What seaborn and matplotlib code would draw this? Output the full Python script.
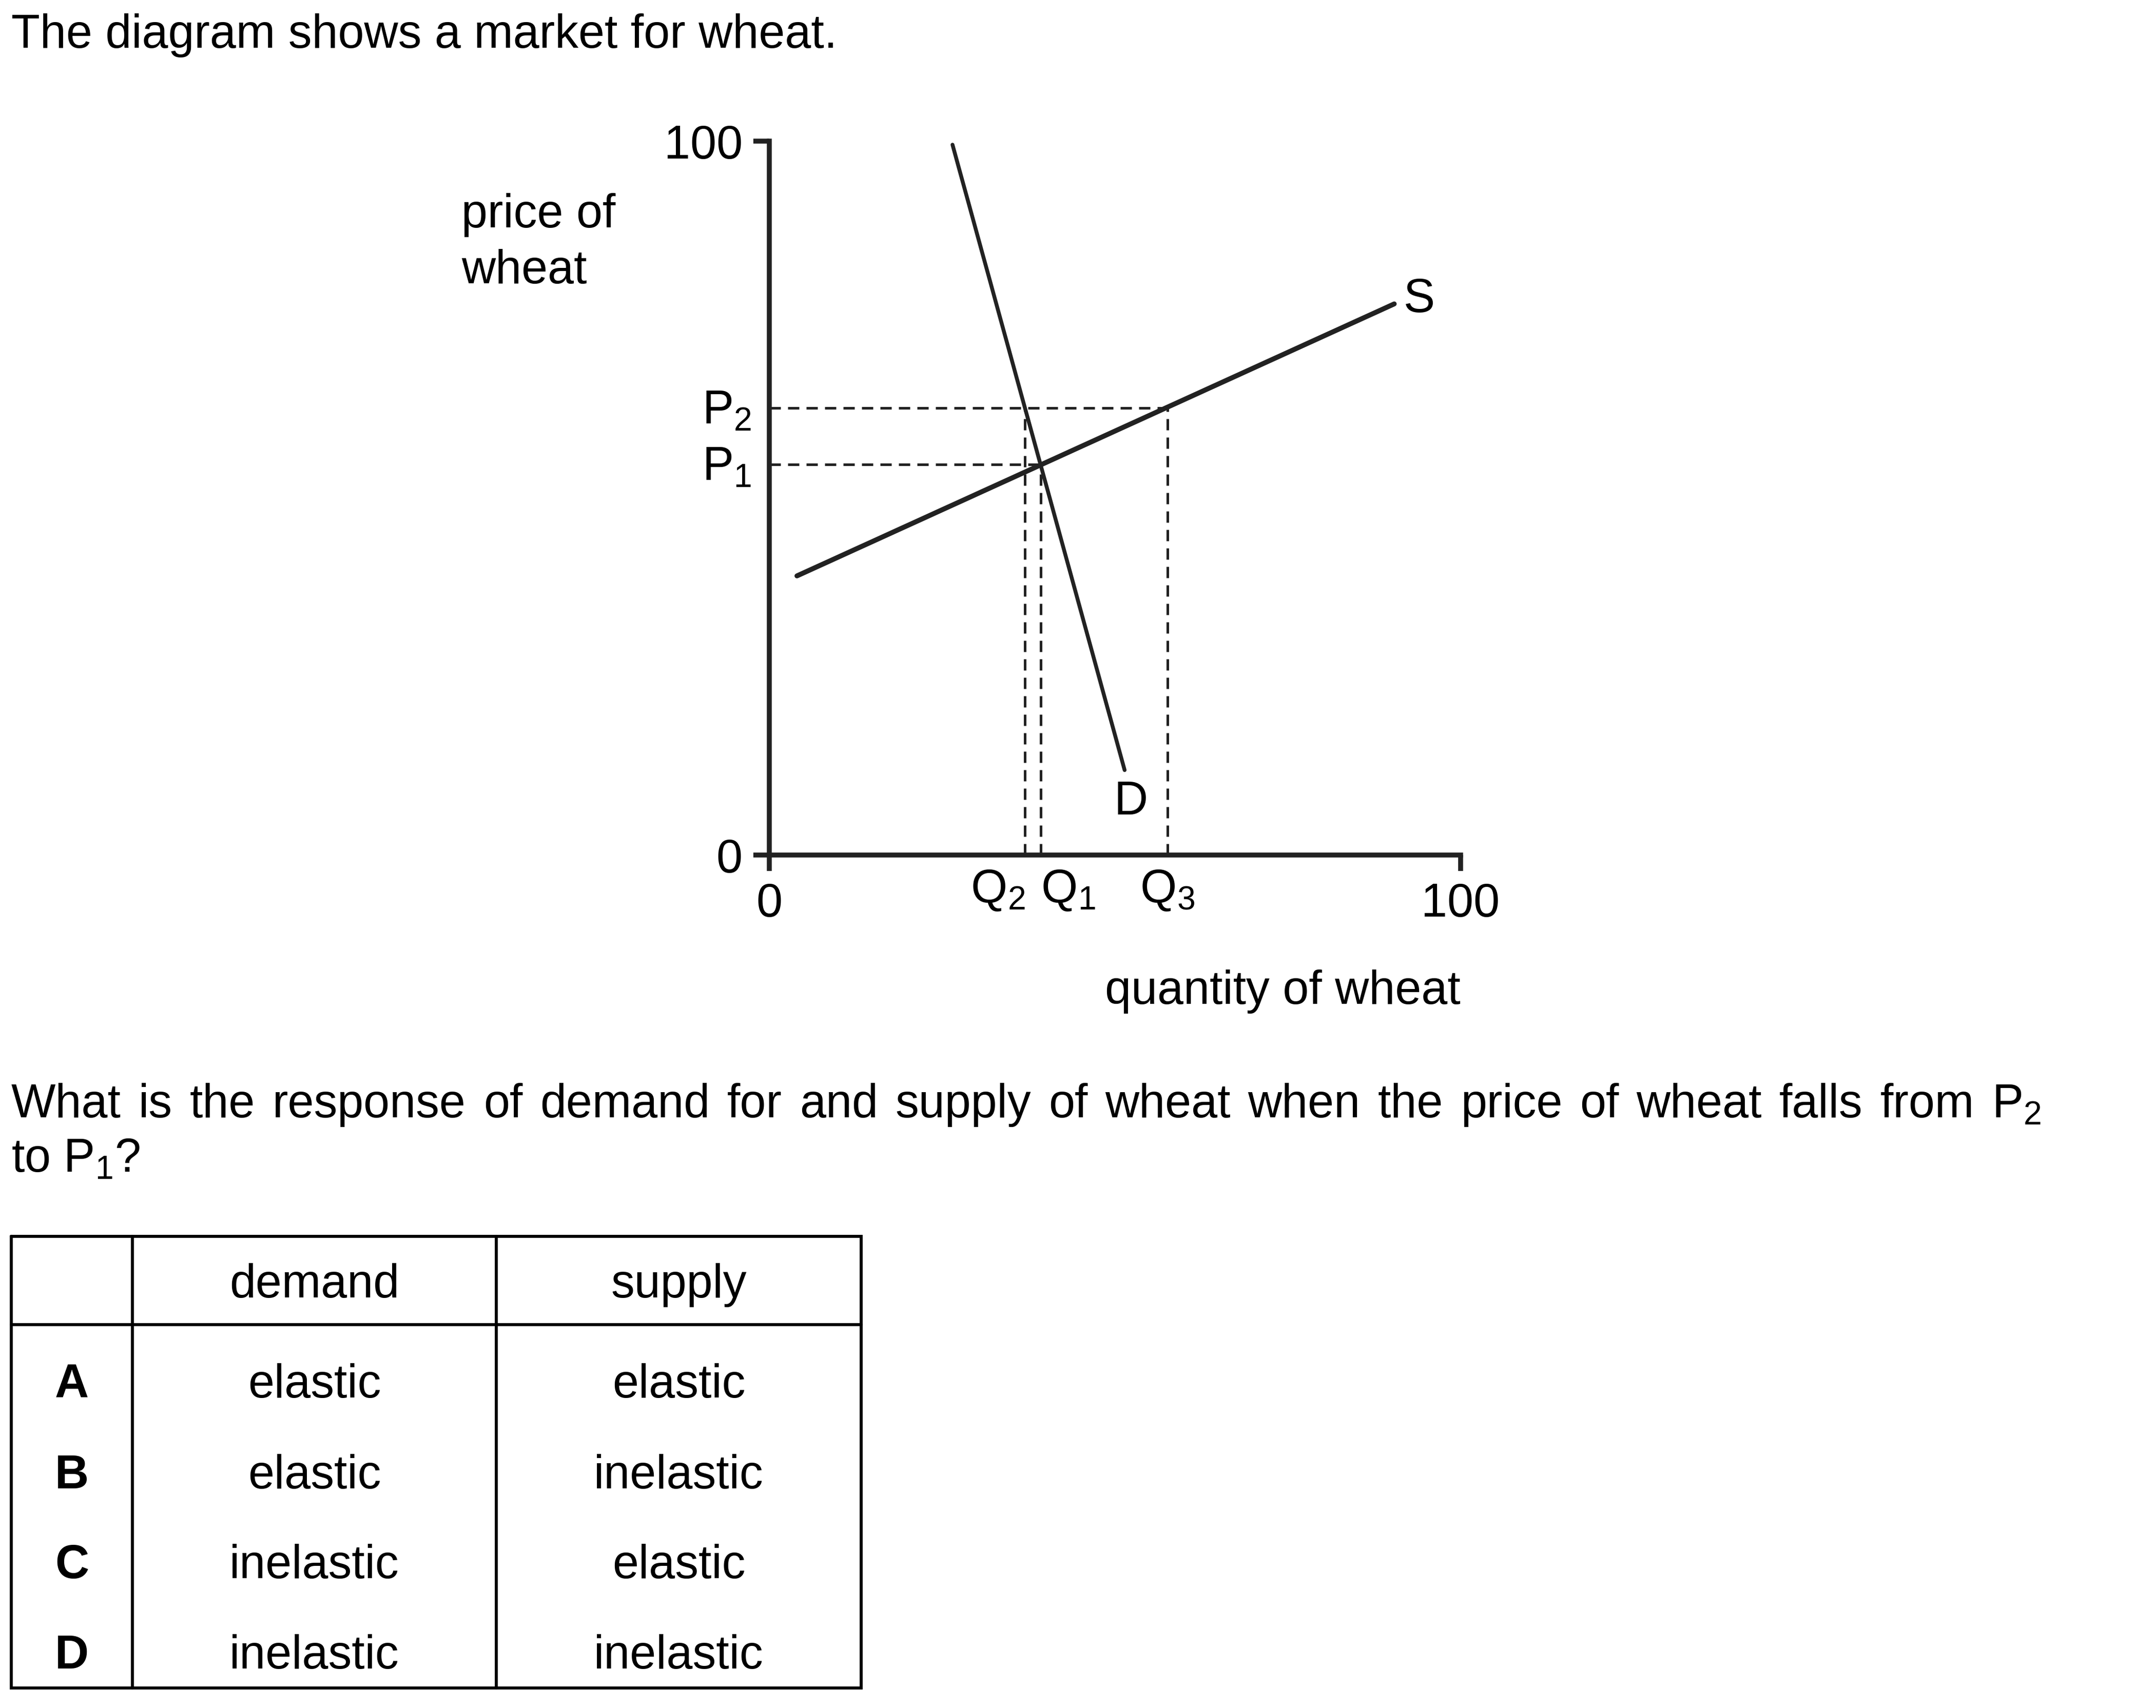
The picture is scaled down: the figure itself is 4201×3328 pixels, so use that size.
import matplotlib
matplotlib.use("Agg")
import matplotlib.pyplot as plt
import matplotlib.transforms as mtransforms
import seaborn as sns

# ---------------- data ----------------
supply_q = [4.0, 90.4]
supply_p = [39.1, 77.2]
demand_q = [26.5, 51.4]
demand_p = [99.5, 11.9]

price_names = ["P1", "P2"]
price_vals = [54.7, 62.6]
qty_names = ["Q2", "Q1", "Q3"]
qty_vals = [37.0, 39.3, 57.6]
qty_tops = [62.6, 54.7, 62.6]          # price reached by each vertical guide
hline_ends = [39.3, 57.6]              # quantity reached by P1 / P2 guides

axis_ticks = [0, 100]
axis_ticklabels = ["0", "100"]

options = ["A", "B", "C", "D"]
demand_resp = ["elastic", "elastic", "inelastic", "inelastic"]
supply_resp = ["elastic", "inelastic", "elastic", "inelastic"]
table_header = ["", "demand", "supply"]

title_text = "The diagram shows a market for wheat."
question_line1 = r"What is the response of demand for and supply of wheat when the price of wheat falls from $\mathregular{P_2}$"
question_line2 = r"to $\mathregular{P_1}$?"

# ---------------- style ----------------
sns.set_theme(style="white")
plt.rcParams["font.family"] = ["Liberation Sans", "DejaVu Sans"]
plt.rcParams["mathtext.default"] = "regular"

W, H = 4201, 3329
DPI = 300
FS = 22
LINE_C = "#222222"

fig = plt.figure(figsize=(W / DPI, H / DPI), dpi=DPI)
fig.patch.set_facecolor("white")

# overlay for free text and table (pixel coordinates, y down)
ov = fig.add_axes([0, 0, 1, 1])
ov.set_xlim(0, W)
ov.set_ylim(H, 0)
ov.axis("off")
ov.patch.set_alpha(0)

# main chart axes
x0, x1, ytop, ybot = 1499, 2846, 276, 1667
ax = fig.add_axes([x0 / W, 1 - ybot / H, (x1 - x0) / W, (ybot - ytop) / H])
ax.patch.set_alpha(0)
ax.set_xlim(0, 100)
ax.set_ylim(0, 100)

sns.lineplot(x=supply_q, y=supply_p, ax=ax, color=LINE_C, linewidth=2.3,
             sort=False, estimator=None)
sns.lineplot(x=demand_q, y=demand_p, ax=ax, color=LINE_C, linewidth=1.8,
             sort=False, estimator=None)

dash = (4.4, 2.8)
for pv, qe in zip(price_vals, hline_ends):
    ax.plot([0, qe], [pv, pv], color=LINE_C, lw=1.2, dashes=dash)
for qv, pt in zip(qty_vals, qty_tops):
    ax.plot([qv, qv], [0, pt], color=LINE_C, lw=1.2, dashes=dash)

for side in ["top", "right"]:
    ax.spines[side].set_visible(False)
for side in ["left", "bottom"]:
    ax.spines[side].set_linewidth(2.3)
    ax.spines[side].set_color(LINE_C)

ax.set_xticks(axis_ticks)
ax.set_xticklabels(axis_ticklabels)
ax.set_yticks(axis_ticks)
ax.set_yticklabels(axis_ticklabels)
ax.tick_params(axis="both", which="major", bottom=True, left=True,
               direction="out", length=7.5, width=2.3, color=LINE_C,
               labelsize=FS, labelcolor="black", pad=5)
ax.set_xlabel("")
ax.set_ylabel("")
ax.grid(False)

# P labels
ptrans = mtransforms.offset_copy(ax.get_yaxis_transform(), fig=fig, x=0, y=-7, units="points")
for name, pv in zip(price_names, price_vals):
    ax.text(-0.026, pv, r"$\mathregular{%s_%s}$" % (name[0], name[1]), transform=ptrans,
            ha="right", va="baseline", fontsize=FS, color="black")

# Q labels
q_ha = {"Q2": "right", "Q1": "left", "Q3": "center"}
for name, qv in zip(qty_names, qty_vals):
    ax.text(qv, -0.0654, r"$\mathregular{%s_%s}$" % (name[0], name[1]),
            transform=ax.get_xaxis_transform(), ha=q_ha[name], va="baseline",
            fontsize=FS, color="black")

# curve labels
ax.text(52.3, 5.75, "D", ha="center", va="baseline", fontsize=FS, color="black")
ax.text(94.0, 76.1, "S", ha="center", va="baseline", fontsize=FS, color="black")

# free text
ov.text(22, 93, title_text, ha="left", va="baseline", fontsize=FS, color="black")
ov.text(899, 443, "price of", ha="left", va="baseline", fontsize=FS, color="black")
ov.text(899, 552, "wheat", ha="left", va="baseline", fontsize=FS, color="black")
ov.text(2846, 1956, "quantity of wheat", ha="right", va="baseline", fontsize=FS, color="black")

# justified first line of the question
renderer = fig.canvas.get_renderer()
words = question_line1.split(" ")
wtexts = [ov.text(0, 2177, w, ha="left", va="baseline", fontsize=FS, color="black")
          for w in words]
widths = [t.get_window_extent(renderer=renderer).width for t in wtexts]
left_x, right_x = 22, 3977
gap = (right_x - left_x - sum(widths)) / (len(words) - 1)
cx = left_x
for t, wd in zip(wtexts, widths):
    t.set_x(cx)
    cx += wd + gap

ov.text(22, 2283, question_line2, ha="left", va="baseline", fontsize=FS, color="black")

# table
tl, tr, tt, tb = 22, 1678, 2410, 3290
hdr_b = 2582
cols = [tl, 258, 967, tr]
tlw = 1.4
ov.plot([tl, tr, tr, tl, tl], [tt, tt, tb, tb, tt], color="black", lw=tlw, solid_joinstyle="miter")
ov.plot([tl, tr], [hdr_b, hdr_b], color="black", lw=tlw)
for cxl in cols[1:3]:
    ov.plot([cxl, cxl], [tt, tb], color="black", lw=tlw)

col_centers = [(cols[i] + cols[i + 1]) / 2 for i in range(3)]
for ccx, lab in zip(col_centers, table_header):
    ov.text(ccx, 2528, lab, ha="center", va="baseline", fontsize=FS, color="black")

row_baselines = [2723, 2900, 3075, 3251]
for yb, opt, d, s in zip(row_baselines, options, demand_resp, supply_resp):
    ov.text(col_centers[0], yb, opt, ha="center", va="baseline", fontsize=FS,
            fontweight="bold", color="black")
    ov.text(col_centers[1], yb, d, ha="center", va="baseline", fontsize=FS, color="black")
    ov.text(col_centers[2], yb, s, ha="center", va="baseline", fontsize=FS, color="black")

fig.savefig("out.png", dpi=DPI, facecolor="white")
